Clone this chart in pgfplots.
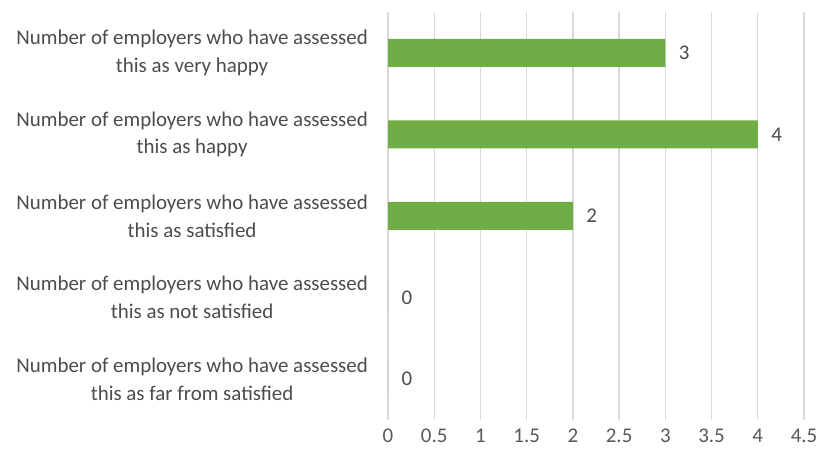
\documentclass[border=0pt]{standalone}
\usepackage{pgfplots}
\pgfplotsset{compat=1.18}
\usepackage{fontspec}
\setmainfont{Carlito}
\definecolor{bargreen}{HTML}{70AD47}
\definecolor{gridgrey}{HTML}{D9D9D9}
\definecolor{labgrey}{HTML}{595959}
\begin{document}
\begin{tikzpicture}[x=1bp,y=1bp]
\path[use as bounding box] (0,0) rectangle (821,462);
\begin{axis}[
  at={(388bp,42bp)}, anchor=south west,
  scale only axis, width=416bp, height=408bp,
  xbar, bar width=28bp,
  xmin=0, xmax=4.5, ymin=-0.5, ymax=4.5,
  xtick={0,0.5,...,4.5},
  ytick={0,1,2,3,4},
  yticklabels={{Number of employers who have assessed\\this as far from satisfied},
               {Number of employers who have assessed\\this as not satisfied},
               {Number of employers who have assessed\\this as satisfied},
               {Number of employers who have assessed\\this as happy},
               {Number of employers who have assessed\\this as very happy}},
  yticklabel style={align=center, font=\fontsize{21}{28}\selectfont, text=labgrey!85!black, inner sep=0pt, xshift=-20bp},
  xticklabel style={font=\fontsize{21}{25}\selectfont, text=labgrey, inner sep=0pt, yshift=-9bp},
  /pgf/number format/assume math mode=true,
  major tick length=0pt,
  axis line style={draw=none},
  xmajorgrids, major grid style={gridgrey, line width=1.3bp},
  nodes near coords,
  every node near coord/.append style={font=\fontsize{21}{25}\selectfont, text=labgrey!85!black, anchor=west, xshift=10bp},
]
\addplot[fill=bargreen, draw=none] coordinates {(0,0) (0,1) (2,2) (4,3) (3,4)};
\end{axis}
\end{tikzpicture}
\end{document}
